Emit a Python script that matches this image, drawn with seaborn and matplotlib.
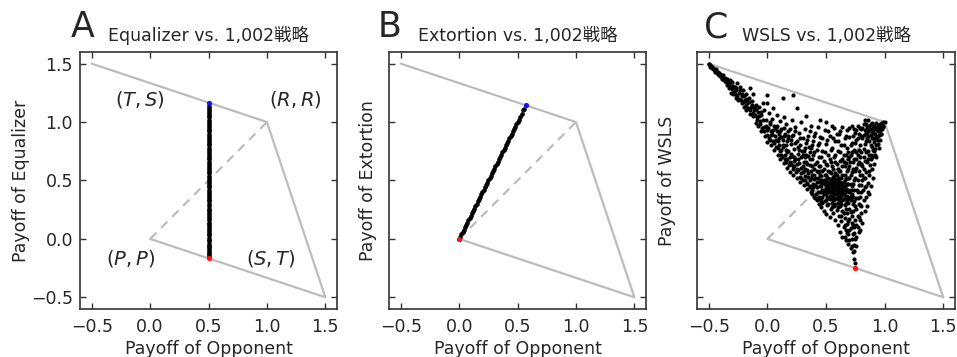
import matplotlib
matplotlib.use("Agg")
import matplotlib.pyplot as plt
import pandas as pd
import seaborn as sns

# 四角形 (T,S) (R,R) (S,T) (P,P)
corner_x = [-0.5, 1.0, 1.5, 0.0, -0.5]
corner_y = [1.5, 1.0, -0.5, 0.0, 1.5]
diag_x = [0.0, 1.0]
diag_y = [0.0, 1.0]

# A: Equalizer vs 1,002 strategies (opponent payoff fixed at 0.5)
eq_opp = 0.5
eq_self = [-0.15, -0.13, -0.12, -0.10, -0.09, -0.07, -0.06, -0.04, -0.02, -0.01,
           0.01, 0.03, 0.04, 0.06, 0.08, 0.09, 0.11, 0.13, 0.14, 0.16, 0.18, 0.20,
           0.21, 0.23, 0.25, 0.26, 0.28, 0.30, 0.32, 0.33, 0.35, 0.37, 0.38, 0.40,
           0.42, 0.44, 0.45, 0.47, 0.49, 0.50, 0.52, 0.54, 0.56, 0.57, 0.59, 0.61,
           0.62, 0.64, 0.66, 0.68, 0.69, 0.71, 0.73, 0.74, 0.76, 0.78, 0.80, 0.81,
           0.83, 0.85, 0.86, 0.88, 0.90, 0.92, 0.93, 0.95, 0.97, 0.98, 1.00, 1.02,
           1.04, 1.05, 1.07, 1.09, 1.10, 1.12, 1.14]
eq_best = (0.5, 1.167)
eq_worst = (0.5, -0.167)

# B: Extortion
ext_points = [(0.00, 0.00), (0.01, 0.02), (0.02, 0.04), (0.03, 0.06), (0.04, 0.08),
              (0.05, 0.10), (0.06, 0.12), (0.07, 0.14), (0.08, 0.16), (0.09, 0.18),
              (0.10, 0.20), (0.11, 0.22), (0.12, 0.24), (0.13, 0.26), (0.14, 0.28),
              (0.15, 0.30), (0.16, 0.32), (0.17, 0.34), (0.18, 0.36), (0.19, 0.38),
              (0.20, 0.40), (0.21, 0.42), (0.22, 0.44), (0.23, 0.46), (0.24, 0.48),
              (0.25, 0.50), (0.26, 0.52), (0.27, 0.54), (0.28, 0.56), (0.29, 0.58),
              (0.30, 0.60), (0.31, 0.62), (0.32, 0.64), (0.33, 0.66), (0.34, 0.68),
              (0.35, 0.70), (0.36, 0.72), (0.37, 0.74), (0.38, 0.76), (0.39, 0.78),
              (0.40, 0.80), (0.41, 0.82), (0.42, 0.84), (0.43, 0.86), (0.44, 0.88),
              (0.45, 0.90), (0.46, 0.92), (0.47, 0.94), (0.48, 0.96), (0.49, 0.98),
              (0.50, 1.00), (0.51, 1.02), (0.52, 1.04), (0.535, 1.07), (0.55, 1.10),
              (0.555, 1.11)]
ext_best = (0.571, 1.143)
ext_worst = (0.0, 0.0)

# C: WSLS
wsls_points = [
    (-0.50, 1.50), (-0.49, 1.49), (-0.485, 1.47), (-0.48, 1.48), (-0.47, 1.47),
    (-0.465, 1.45), (-0.46, 1.46), (-0.45, 1.44), (-0.44, 1.45), (-0.43, 1.42),
    (-0.42, 1.43), (-0.41, 1.40), (-0.40, 1.41), (-0.39, 1.38), (-0.38, 1.40),
    (-0.37, 1.36), (-0.36, 1.38), (-0.35, 1.34), (-0.34, 1.37), (-0.33, 1.33),
    (-0.33, 1.29), (-0.32, 1.35), (-0.31, 1.31), (-0.31, 1.25), (-0.30, 1.34),
    (-0.29, 1.24), (-0.28, 1.30), (-0.27, 1.21), (-0.27, 1.27), (-0.26, 1.33),
    (-0.25, 1.19), (-0.24, 1.25), (-0.23, 1.30), (-0.22, 1.16), (-0.22, 1.22),
    (-0.21, 1.27), (-0.20, 1.13), (-0.19, 1.19), (-0.18, 1.24), (-0.18, 1.10),
    (-0.17, 1.16), (-0.16, 1.21), (-0.15, 1.29), (-0.15, 1.07), (-0.14, 1.13),
    (-0.13, 1.18), (-0.12, 1.05), (-0.12, 1.24), (-0.11, 1.10), (-0.10, 1.15),
    (-0.10, 0.99), (-0.09, 1.04),
    (-0.08, 0.97), (-0.08, 1.09), (-0.07, 1.13), (-0.06, 1.01), (-0.05, 0.92),
    (-0.05, 1.06), (-0.04, 1.16), (-0.03, 0.96), (-0.03, 1.10), (-0.02, 0.88),
    (-0.01, 1.02), (0.00, 0.83), (0.00, 0.93), (0.00, 1.16), (0.00, 1.23),
    (0.01, 1.08), (0.02, 0.98), (0.03, 0.80), (0.03, 0.89), (0.04, 1.03),
    (0.05, 0.93), (0.05, 1.12), (0.06, 0.76), (0.07, 0.85), (0.08, 0.97),
    (0.08, 1.06), (0.09, 0.72), (0.10, 0.80), (0.10, 0.90), (0.11, 1.01),
    (0.11, 0.68), (0.12, 0.76), (0.12, 0.94), (0.13, 0.85), (0.13, 1.21),
    (0.14, 0.65), (0.14, 1.04), (0.15, 0.72), (0.15, 0.90), (0.16, 0.80),
    (0.16, 0.98), (0.17, 0.61), (0.17, 0.68), (0.18, 0.86), (0.18, 0.75),
    (0.19, 0.94), (0.19, 0.57), (0.20, 0.64), (0.20, 0.81), (0.21, 0.71),
    (0.21, 1.02), (0.22, 0.55), (0.22, 0.89), (0.22, 1.23), (0.23, 0.62),
    (0.23, 0.77), (0.24, 0.68), (0.24, 0.96), (0.25, 0.52), (0.25, 0.84),
    (0.25, 1.12), (0.26, 0.59), (0.26, 0.73), (0.27, 0.65), (0.27, 0.91),
    (0.28, 0.49), (0.28, 0.80), (0.29, 0.56), (0.29, 0.70), (0.29, 1.00),
    (0.30, 0.62), (0.30, 0.86),
    (0.31, 0.46), (0.31, 0.75), (0.32, 0.54), (0.32, 0.94), (0.33, 0.66),
    (0.33, 1.05), (0.33, 0.82), (0.34, 0.43), (0.34, 0.59), (0.35, 0.71),
    (0.35, 0.88), (0.36, 0.50), (0.36, 0.63), (0.37, 0.40), (0.37, 0.78),
    (0.37, 0.97), (0.38, 0.55), (0.38, 0.68), (0.39, 0.47), (0.39, 0.84),
    (0.40, 0.36), (0.40, 0.60), (0.40, 0.74), (0.41, 0.52), (0.41, 0.91),
    (0.42, 0.33), (0.42, 0.66), (0.42, 0.44), (0.43, 0.57), (0.43, 0.80),
    (0.44, 0.30), (0.44, 0.49), (0.44, 0.70), (0.45, 0.40), (0.45, 0.62),
    (0.45, 1.02), (0.45, 0.87),
    (0.46, 0.27), (0.46, 0.45), (0.46, 0.54), (0.47, 0.36), (0.47, 0.58),
    (0.47, 0.75), (0.48, 0.24), (0.48, 0.42), (0.48, 0.50), (0.48, 0.67),
    (0.49, 0.32), (0.49, 0.47), (0.49, 0.93), (0.50, 0.21), (0.50, 0.38),
    (0.50, 0.44), (0.50, 0.55), (0.50, 0.81), (0.51, 0.29), (0.51, 0.41),
    (0.51, 0.49), (0.51, 0.63), (0.52, 0.35), (0.52, 0.46), (0.52, 0.52),
    (0.52, 0.72), (0.53, 0.19), (0.53, 0.40), (0.53, 0.57), (0.53, 0.88),
    (0.54, 0.26), (0.54, 0.37), (0.54, 0.44), (0.54, 0.50), (0.54, 0.66),
    (0.55, 0.31), (0.55, 0.42), (0.55, 0.47), (0.55, 0.78), (0.56, 0.22),
    (0.56, 0.36), (0.56, 0.40), (0.56, 0.53), (0.56, 0.60), (0.57, 0.28),
    (0.57, 0.45), (0.57, 0.49), (0.57, 0.70), (0.57, 0.95), (0.58, 0.16),
    (0.58, 0.34), (0.58, 0.42), (0.58, 0.56), (0.58, 0.84), (0.59, 0.25),
    (0.59, 0.38), (0.59, 0.46), (0.59, 0.64), (0.60, 0.12), (0.60, 0.31),
    (0.60, 0.43), (0.60, 0.51), (0.60, 0.75),
    (0.61, 0.20), (0.61, 0.39), (0.61, 0.47), (0.61, 0.58), (0.61, 0.90),
    (0.62, 0.06), (0.62, 0.28), (0.62, 0.35), (0.62, 0.44), (0.62, 0.67),
    (0.63, 0.15), (0.63, 0.41), (0.63, 0.52), (0.63, 0.80), (0.64, 0.02),
    (0.64, 0.24), (0.64, 0.33), (0.64, 0.48), (0.64, 0.62), (0.64, 0.96),
    (0.65, 0.10), (0.65, 0.38), (0.65, 0.44), (0.65, 0.72), (0.66, 0.18),
    (0.66, 0.29), (0.66, 0.55), (0.66, 0.86), (0.67, -0.01), (0.67, 0.08),
    (0.67, 0.36), (0.67, 0.46), (0.67, 0.65), (0.68, 0.13), (0.68, 0.22),
    (0.68, 0.41), (0.68, 0.78), (0.68, 0.93), (0.69, -0.04), (0.69, 0.04),
    (0.69, 0.31), (0.69, 0.52), (0.69, 0.60), (0.70, 0.17), (0.70, 0.26),
    (0.70, 0.70), (0.70, 0.87), (0.71, -0.08), (0.71, 0.09), (0.71, 0.37),
    (0.71, 0.47), (0.72, 0.00), (0.72, 0.20), (0.72, 0.57), (0.72, 0.82),
    (0.72, 0.97), (0.73, -0.11), (0.73, 0.12), (0.73, 0.30), (0.73, 0.66),
    (0.74, -0.17), (0.74, -0.05), (0.74, 0.05), (0.74, 0.42), (0.74, 0.76),
    (0.75, -0.21), (0.75, 0.16), (0.75, 0.52), (0.75, 0.91),
    (0.76, 0.02), (0.76, 0.26), (0.76, 0.61), (0.76, 0.85), (0.77, 0.10),
    (0.77, 0.35), (0.77, 0.72), (0.77, 0.97), (0.78, 0.19), (0.78, 0.46),
    (0.78, 0.66), (0.78, 0.90), (0.79, 0.08), (0.79, 0.29), (0.79, 0.55),
    (0.79, 0.80), (0.80, 0.22), (0.80, 0.40), (0.80, 0.74), (0.80, 0.94),
    (0.81, 0.14), (0.81, 0.50), (0.81, 0.62), (0.81, 0.86), (0.82, 0.33),
    (0.82, 0.70), (0.82, 0.98), (0.83, 0.24), (0.83, 0.44), (0.83, 0.81),
    (0.83, 1.02), (0.84, 0.57), (0.84, 0.91), (0.84, 0.36), (0.85, 0.28),
    (0.85, 0.66), (0.85, 0.86), (0.85, 0.96),
    (0.86, 0.40), (0.86, 0.75), (0.86, 0.92), (0.86, 1.02), (0.87, 0.38),
    (0.87, 0.55), (0.87, 0.84), (0.87, 0.97), (0.88, 0.45), (0.88, 0.68),
    (0.88, 0.89), (0.88, 0.94), (0.89, 0.60), (0.89, 0.79), (0.89, 0.99),
    (0.90, 0.52), (0.90, 0.71), (0.90, 0.86), (0.90, 0.93), (0.91, 0.64),
    (0.91, 0.83), (0.91, 0.97), (0.92, 0.77), (0.92, 0.90), (0.92, 0.95),
    (0.93, 0.70), (0.93, 0.87), (0.93, 0.99), (0.94, 0.81), (0.94, 0.92),
    (0.95, 0.78), (0.95, 0.89), (0.95, 0.96), (0.96, 0.85), (0.96, 0.93),
    (0.97, 0.90), (0.97, 0.98), (0.98, 0.94), (0.98, 0.99), (0.99, 0.97),
    (1.00, 1.00),
    # upper arm, second pass
    (-0.495, 1.495), (-0.475, 1.46), (-0.455, 1.45), (-0.445, 1.43), (-0.435, 1.44),
    (-0.425, 1.41), (-0.415, 1.42), (-0.405, 1.39), (-0.395, 1.40), (-0.385, 1.37),
    (-0.375, 1.38), (-0.365, 1.35), (-0.355, 1.36), (-0.345, 1.32), (-0.325, 1.31),
    (-0.315, 1.36), (-0.305, 1.28), (-0.295, 1.31), (-0.285, 1.26), (-0.275, 1.24),
    (-0.265, 1.29), (-0.255, 1.22), (-0.245, 1.20), (-0.235, 1.27), (-0.225, 1.19),
    (-0.215, 1.24), (-0.205, 1.17), (-0.195, 1.22), (-0.185, 1.15), (-0.175, 1.20),
    (-0.165, 1.12), (-0.155, 1.17), (-0.145, 1.10), (-0.135, 1.15), (-0.125, 1.08),
    (-0.115, 1.13), (-0.105, 1.06), (-0.095, 1.11), (-0.085, 1.02), (-0.075, 1.05),
    (-0.065, 0.98), (-0.055, 1.09), (-0.045, 0.95), (-0.035, 1.02), (-0.025, 0.92),
    (-0.015, 0.97), (-0.005, 0.89), (0.005, 0.95), (0.015, 0.86), (0.025, 1.00),
    (0.035, 0.92), (0.045, 0.84), (0.055, 0.97), (0.065, 0.88), (0.075, 0.79),
    (0.085, 0.92), (0.095, 0.84), (0.105, 0.75), (0.115, 0.87), (0.125, 0.70),
    (0.135, 0.79), (0.145, 0.95), (0.155, 0.66), (0.165, 0.74), (0.175, 0.88),
    (0.185, 0.63), (0.195, 0.70), (0.205, 0.85), (0.215, 0.60), (0.225, 0.67),
    (0.235, 0.92), (0.245, 0.57), (0.255, 0.64), (0.265, 0.79), (0.275, 0.53),
    (0.285, 0.61), (0.295, 0.75), (0.305, 0.50), (0.315, 0.58), (0.325, 0.70),
    (0.335, 0.48), (0.345, 0.53), (0.355, 0.79), (0.365, 0.45), (0.375, 0.58),
    (0.385, 0.42), (0.395, 0.51), (0.405, 0.64), (0.415, 0.38), (0.425, 0.49),
    (0.435, 0.35), (0.445, 0.58), (0.455, 0.33), (0.465, 0.40),
    # dense core
    (0.47, 0.31), (0.48, 0.38), (0.49, 0.41), (0.49, 0.55), (0.50, 0.49),
    (0.50, 0.33), (0.51, 0.36), (0.51, 0.45), (0.52, 0.40), (0.52, 0.30),
    (0.52, 0.58), (0.53, 0.44), (0.53, 0.48), (0.53, 0.34), (0.54, 0.41),
    (0.54, 0.56), (0.55, 0.37), (0.55, 0.51), (0.55, 0.27), (0.56, 0.44),
    (0.56, 0.48), (0.57, 0.38), (0.57, 0.41), (0.57, 0.54), (0.58, 0.47),
    (0.58, 0.30), (0.58, 0.51), (0.59, 0.42), (0.59, 0.35), (0.59, 0.55),
    (0.60, 0.39), (0.60, 0.47), (0.60, 0.27), (0.61, 0.43), (0.61, 0.33),
    (0.61, 0.52), (0.62, 0.40), (0.62, 0.49), (0.63, 0.37), (0.63, 0.46),
    (0.63, 0.30), (0.64, 0.42), (0.64, 0.55), (0.65, 0.34), (0.65, 0.49),
    (0.66, 0.40), (0.66, 0.45), (0.67, 0.31), (0.67, 0.52), (0.68, 0.37),
    (0.68, 0.47), (0.69, 0.42), (0.70, 0.35), (0.70, 0.52), (0.71, 0.42),
    (0.72, 0.38), (0.48, 0.60), (0.50, 0.64), (0.53, 0.68), (0.55, 0.62),
    (0.58, 0.66), (0.60, 0.60), (0.62, 0.58), (0.64, 0.68), (0.66, 0.62),
    (0.68, 0.58), (0.70, 0.62),
    # lower tail
    (0.63, 0.20), (0.65, 0.22), (0.66, 0.12), (0.67, 0.26), (0.69, 0.15),
    (0.70, 0.08), (0.71, 0.23), (0.72, 0.14), (0.73, 0.04), (0.73, 0.24),
    (0.74, 0.10), (0.75, 0.00), (0.75, 0.28), (0.76, 0.12), (0.76, -0.06),
    (0.77, 0.20), (0.78, 0.06), (0.78, 0.30), (0.79, 0.16), (0.80, 0.28),
    (0.74, -0.10), (0.72, -0.06), (0.70, -0.01), (0.68, 0.05), (0.66, 0.02),
    # towards (R,R)
    (0.60, 0.84), (0.62, 0.92), (0.65, 0.80), (0.67, 0.88), (0.69, 0.74),
    (0.70, 0.95), (0.71, 0.80), (0.73, 0.88), (0.74, 0.94), (0.75, 0.82),
    (0.76, 0.93), (0.77, 0.86), (0.78, 0.76), (0.79, 0.95), (0.80, 0.88),
    (0.81, 0.95), (0.82, 0.89), (0.83, 0.93), (0.84, 0.84), (0.84, 0.98),
    (0.85, 0.91), (0.86, 0.88), (0.87, 0.93), (0.88, 0.98), (0.89, 0.91),
    (0.89, 0.86), (0.90, 0.97), (0.91, 0.91), (0.92, 0.85), (0.93, 0.94),
    (0.94, 0.97), (0.94, 0.88), (0.95, 0.93), (0.96, 0.98), (0.97, 0.95),
    (0.98, 0.97), (0.99, 1.00), (0.985, 0.96), (0.965, 0.90), (0.945, 0.85),
    (0.925, 0.80), (0.905, 0.76), (0.885, 0.72), (0.875, 0.63), (0.865, 0.58),
    (0.855, 0.48), (0.845, 0.45), (0.835, 0.52), (0.825, 0.60), (0.815, 0.42),
    (0.805, 0.55), (0.795, 0.64), (0.785, 0.58), (0.775, 0.50), (0.765, 0.42),
    (0.755, 0.68), (0.745, 0.58), (0.735, 0.50), (0.725, 0.74), (0.705, 0.66),
    (0.715, 0.55),
    # middle upper
    (0.32, 0.78), (0.34, 0.85), (0.36, 0.74), (0.38, 0.80), (0.40, 0.88),
    (0.42, 0.76), (0.44, 0.82), (0.46, 0.70), (0.47, 0.86), (0.49, 0.74),
    (0.51, 0.85), (0.52, 0.92), (0.54, 0.76), (0.56, 0.86), (0.58, 0.72),
    (0.59, 0.90), (0.36, 0.92), (0.43, 0.96), (0.50, 1.00), (0.55, 0.97),
    # inner band, third pass
    (0.02, 0.85), (0.04, 0.90), (0.06, 0.82), (0.07, 0.95), (0.09, 0.78),
    (0.10, 0.86), (0.11, 0.92), (0.12, 0.72), (0.13, 0.80), (0.14, 0.88),
    (0.15, 0.68), (0.16, 0.76), (0.17, 0.84), (0.18, 0.92), (0.19, 0.66),
    (0.20, 0.73), (0.21, 0.88), (0.22, 0.62), (0.23, 0.70), (0.24, 0.82),
    (0.25, 0.60), (0.26, 0.68), (0.27, 0.76), (0.28, 0.86), (0.29, 0.52),
    (0.30, 0.57), (0.30, 0.72), (0.31, 0.66), (0.32, 0.50), (0.32, 0.60),
    (0.33, 0.72), (0.34, 0.47), (0.34, 0.64), (0.35, 0.56), (0.36, 0.44),
    (0.36, 0.68), (0.37, 0.52), (0.38, 0.38), (0.38, 0.62), (0.39, 0.44),
    (0.39, 0.72), (0.40, 0.55), (0.41, 0.35), (0.41, 0.46), (0.42, 0.58),
    (0.43, 0.40), (0.43, 0.52), (0.44, 0.36), (0.44, 0.62), (0.45, 0.45),
    (0.45, 0.55), (0.46, 0.32), (0.46, 0.50), (0.47, 0.42), (0.47, 0.48),
    (0.50, 0.42), (0.51, 0.52), (0.52, 0.43), (0.53, 0.37), (0.53, 0.51),
    (0.54, 0.47), (0.55, 0.40), (0.55, 0.45), (0.56, 0.33), (0.56, 0.51),
    (0.57, 0.43), (0.58, 0.38), (0.58, 0.45), (0.59, 0.49), (0.60, 0.36),
    (0.60, 0.45), (0.61, 0.41), (0.62, 0.47), (0.62, 0.32), (0.63, 0.43),
    (0.64, 0.38), (0.64, 0.45), (0.65, 0.41), (0.66, 0.35), (0.66, 0.50),
    (0.67, 0.43), (0.68, 0.33), (0.69, 0.47), (0.70, 0.40), (0.71, 0.33),
    (0.72, 0.45), (0.73, 0.36), (0.73, 0.47), (0.74, 0.32), (0.76, 0.35),
    (0.77, 0.40), (0.79, 0.36), (0.80, 0.46), (0.82, 0.52),
    (0.62, 0.74), (0.65, 0.66), (0.67, 0.72), (0.69, 0.68), (0.71, 0.72),
    (0.73, 0.60), (0.74, 0.68), (0.76, 0.74), (0.77, 0.64), (0.79, 0.70),
    (0.80, 0.64), (0.82, 0.77), (0.83, 0.67), (0.84, 0.74), (0.86, 0.68),
    (0.87, 0.72), (0.88, 0.80), (0.89, 0.70), (0.91, 0.75), (0.92, 0.72),
]
wsls_worst = (0.75, -0.25)

ticks = [-0.5, 0.0, 0.5, 1.0, 1.5]
labels_ts = [("$(T,S)$", -0.09, 1.19), ("$(R,R)$", 1.24, 1.19),
             ("$(P,P)$", -0.17, -0.17), ("$(S,T)$", 1.03, -0.17)]

sns.set_style("ticks")
plt.rcParams["font.family"] = ["DejaVu Sans", "Noto Sans CJK JP"]
plt.rcParams["mathtext.fontset"] = "dejavusans"

fig = plt.figure(figsize=(9.57, 3.57), dpi=100)
ax_pos = [[0.0836, 0.1345, 0.2686, 0.72],
          [0.4065, 0.1345, 0.2686, 0.72],
          [0.7283, 0.1345, 0.2696, 0.72]]
axes = [fig.add_axes(p) for p in ax_pos]

grey = "#bcbcbc"


def base(ax):
    sns.lineplot(x=corner_x, y=corner_y, sort=False, color=grey, linewidth=1.6,
                 ax=ax, zorder=1)
    sns.lineplot(x=diag_x, y=diag_y, sort=False, color=grey, linewidth=1.6,
                 ax=ax, zorder=1, linestyle=(0, (4, 3)))
    ax.set_xlim(-0.6, 1.6)
    ax.set_ylim(-0.6, 1.6)
    ax.set_xticks(ticks)
    ax.set_yticks(ticks)
    ax.tick_params(direction="in", top=True, right=True, length=4, width=1,
                   labelsize=12.5, color="#333333")
    ax.tick_params(axis="x", pad=6.5)
    ax.tick_params(axis="y", pad=5)
    for s in ax.spines.values():
        s.set_linewidth(1.2)
        s.set_color("#333333")
    ax.set_xlabel("Payoff of Opponent", fontsize=12.5, labelpad=3)


def dots(ax, xs, ys, color, size, z):
    sns.scatterplot(x=xs, y=ys, color=color, s=size, linewidth=0, ax=ax,
                    zorder=z, legend=False)


# A
ax = axes[0]
base(ax)
df_eq = pd.DataFrame({"opp": eq_opp, "self": eq_self})
dots(ax, df_eq["opp"], df_eq["self"], "black", 11, 3)
dots(ax, [eq_best[0]], [eq_best[1]], "#1010ff", 14, 4)
dots(ax, [eq_worst[0]], [eq_worst[1]], "#ff1010", 14, 4)
for t, x, y in labels_ts:
    ax.text(x, y, t, fontsize=14, ha="center", va="center")
ax.set_ylabel("Payoff of Equalizer", fontsize=12.5, labelpad=1)

# B
ax = axes[1]
base(ax)
df_ext = pd.DataFrame(ext_points, columns=["opp", "self"])
dots(ax, df_ext["opp"], df_ext["self"], "black", 11, 3)
dots(ax, [ext_best[0]], [ext_best[1]], "#1010ff", 14, 4)
dots(ax, [ext_worst[0]], [ext_worst[1]], "#ff1010", 14, 4)
ax.set_yticklabels([])
ax.set_ylabel("Payoff of Extortion", fontsize=12.5, labelpad=4)

# C
ax = axes[2]
base(ax)
df_wsls = pd.DataFrame(wsls_points, columns=["opp", "self"])
dots(ax, df_wsls["opp"], df_wsls["self"], "black", 9, 3)
dots(ax, [wsls_worst[0]], [wsls_worst[1]], "#ff1010", 14, 4)
ax.set_yticklabels([])
ax.set_ylabel("Payoff of WSLS", fontsize=12.5, labelpad=10)

titles = ["Equalizer vs. 1,002戦略", "Extortion vs. 1,002戦略", "WSLS vs. 1,002戦略"]
letters = ["A", "B", "C"]
letter_x = [0.058, 0.05, 0.12]
for ax, t, l, lx in zip(axes, titles, letters, letter_x):
    ax.set_title(t, fontsize=12.5, pad=8)
    ax.text(lx, 1.03, l, transform=ax.transAxes, fontsize=25, ha="right",
            va="bottom")

fig.savefig("out.png", dpi=100)
